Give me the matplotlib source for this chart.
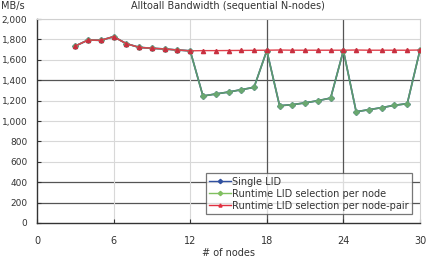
import matplotlib
matplotlib.use("Agg")
import matplotlib.pyplot as plt
from matplotlib.ticker import FuncFormatter
from matplotlib.lines import Line2D

plt.rcParams['font.family'] = ['DejaVu Sans']

nodes = list(range(3, 31))
node_pair = [1735, 1794, 1791, 1827, 1758, 1722, 1713, 1706, 1696, 1688,
             1690, 1690, 1691, 1692, 1693, 1694, 1696, 1694, 1694, 1694, 1694,
             1694, 1696, 1694, 1694, 1694, 1694, 1696]
per_node = [1735, 1794, 1791, 1827, 1758, 1722, 1713, 1706, 1696, 1688,
            1245, 1265, 1284, 1307, 1330, 1690, 1150, 1160, 1178, 1199, 1225,
            1690, 1091, 1111, 1131, 1154, 1170, 1696]
single_lid = per_node[:]

x_ticks = [0, 6, 12, 18, 24, 30]
y_ticks = list(range(0, 2001, 200))

fig = plt.figure(figsize=(4.28, 2.62), dpi=100)
ax = fig.add_axes([37/428, 39/262, 383/428, 204/262])

# grid
for yv in y_ticks[1:]:
    dark = yv in (200, 400, 1400)
    ax.axhline(yv, color='#555555' if dark else '#d8d8d8', lw=0.9 if dark else 0.8, zorder=0)
for xv in x_ticks[1:-1]:
    dark = xv in (18, 24)
    ax.axvline(xv, color='#555555' if dark else '#d8d8d8', lw=0.9 if dark else 0.8, zorder=0)

ax.plot(nodes, single_lid, color='#3050a0', marker='D', ms=2.8, lw=1.2, label='Single LID', zorder=2)
ax.plot(nodes, per_node, color='#5e9a6c', marker='D', ms=2.8, mfc='#6aa870', mec='#6aa870', lw=1.2,
        label='Runtime LID selection per node', zorder=3)
ax.plot(nodes, node_pair, color='#e0404c', marker='^', ms=3.0, mfc='#c83040', mec='#c83040', lw=1.0,
        label='Runtime LID selection per node-pair', zorder=4)

ax.set_xlim(0, 30)
ax.set_ylim(0, 2000)
ax.set_xticks(x_ticks)
ax.set_yticks(y_ticks)
ax.yaxis.set_major_formatter(FuncFormatter(lambda v, p: f"{int(v):,}"))
ax.tick_params(axis='both', labelsize=7, colors='#333333', direction='in', length=3, width=0.8)
ax.tick_params(axis='y', labelsize=6.5, pad=7)
ax.tick_params(axis='x', pad=9)
for s in ('left', 'bottom'):
    ax.spines[s].set_color('#333333')
    ax.spines[s].set_linewidth(1.0)
for s in ('top', 'right'):
    ax.spines[s].set_color('#d0d0d0')
    ax.spines[s].set_linewidth(0.8)

ax.set_xlabel('# of nodes', fontsize=7, color='#333333', labelpad=2)
fig.text(228/428, 1 - 6/262, 'Alltoall Bandwidth (sequential N-nodes)', ha='center', va='center',
         fontsize=7, color='#333333')
fig.text(0.002, 1 - 6/262, 'MB/s', ha='left', va='center', fontsize=7, color='#333333')

handles = [
    Line2D([], [], color='#3050a0', marker='D', ms=2.2, lw=1.0),
    Line2D([], [], color='#80c060', marker='D', ms=2.2, lw=1.0),
    Line2D([], [], color='#e03040', marker='^', ms=2.2, lw=1.0),
]
labels = ['Single LID', 'Runtime LID selection per node', 'Runtime LID selection per node-pair']
leg = ax.legend(handles, labels, loc='lower right', bbox_to_anchor=(412/428, (262-214)/262),
                bbox_transform=fig.transFigure, fontsize=7, frameon=True, fancybox=False,
                handlelength=2.2, handletextpad=0.15, borderpad=0.35, labelspacing=0.2,
                borderaxespad=0)
leg.get_frame().set_edgecolor('#555555')
leg.get_frame().set_linewidth(0.9)
for t in leg.get_texts():
    t.set_color('#333333')

fig.savefig('out.png', dpi=100)
